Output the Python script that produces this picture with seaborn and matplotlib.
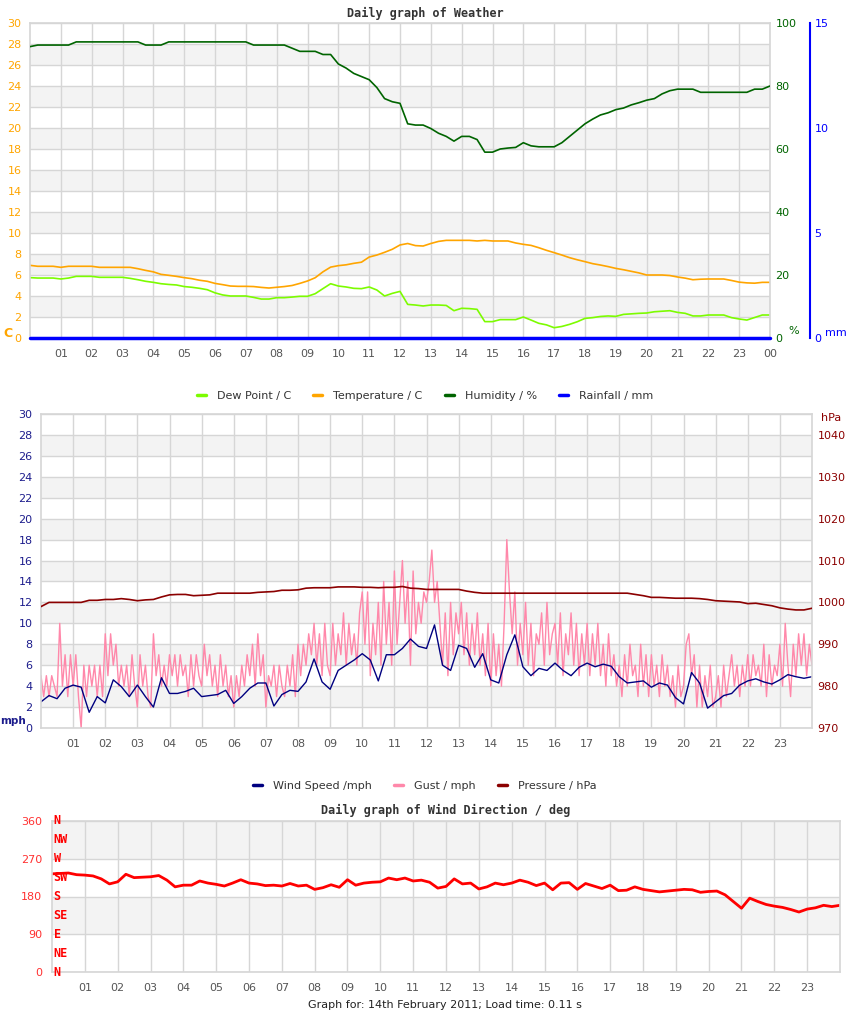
import numpy as np
import matplotlib
matplotlib.use("Agg")
import matplotlib.pyplot as plt
from matplotlib.lines import Line2D
import seaborn as sns

sns.set_style("white")
plt.rcParams["font.family"] = ["DejaVu Sans"]

# ---- data ----
# quarter-hour samples, hours 0 .. 24
quarter_hours = np.arange(97) * 0.25

humidity = [
    92.5, 93, 93, 93,   93, 93, 94, 94,   94, 94, 94, 94,   94, 94, 94, 93,
    93, 93, 94, 94,     94, 94, 94, 94,   94, 94, 94, 94,   94, 93, 93, 93,
    93, 93, 92, 91,     91, 91, 90, 90,   87, 85.7, 84, 83, 82, 79.5, 76, 75,
    74.5, 68, 67.6, 67.6, 66.5, 65, 64, 62.5, 64, 64, 63, 59, 59, 60, 60.3, 60.5,
    62, 61, 60.7, 60.7, 60.7, 62, 64, 66, 68, 69.5, 70.8, 71.5, 72.5, 73, 74, 74.7,
    75.5, 76, 77.5, 78.5, 79, 79, 79, 78, 78, 78, 78, 78, 78, 78, 79, 79,
    80,
]
temperature = [
    6.92, 6.83, 6.83, 6.83, 6.73, 6.83, 6.83, 6.83, 6.83, 6.73, 6.73, 6.73,
    6.73, 6.73, 6.6, 6.44, 6.3, 6.06, 5.97, 5.87, 5.75, 5.65, 5.5, 5.4,
    5.2, 5.08, 4.95, 4.92, 4.92, 4.9, 4.82, 4.76, 4.83, 4.9, 5.0, 5.2,
    5.43, 5.74, 6.3, 6.75, 6.89, 6.97, 7.11, 7.22, 7.71, 7.9, 8.16, 8.45,
    8.86, 9.0, 8.8, 8.76, 9.0, 9.2, 9.3, 9.3, 9.3, 9.3, 9.24, 9.3,
    9.24, 9.24, 9.24, 9.05, 8.92, 8.82, 8.6, 8.35, 8.13, 7.9, 7.65, 7.45,
    7.27, 7.08, 6.95, 6.8, 6.63, 6.5, 6.35, 6.2, 6.0, 6.0, 6.0, 5.95,
    5.81, 5.7, 5.55, 5.6, 5.62, 5.62, 5.62, 5.48, 5.32, 5.25, 5.22, 5.3,
    5.3,
]
dew_point = [
    5.75, 5.71, 5.71, 5.71, 5.62, 5.71, 5.87, 5.87, 5.87, 5.78, 5.78, 5.78,
    5.78, 5.68, 5.55, 5.4, 5.3, 5.17, 5.1, 5.05, 4.9, 4.83, 4.73, 4.6,
    4.3, 4.1, 4.0, 4.0, 4.0, 3.87, 3.71, 3.71, 3.84, 3.84, 3.9, 3.97,
    3.97, 4.22, 4.7, 5.17, 4.95, 4.86, 4.73, 4.7, 4.86, 4.57, 4.0, 4.25,
    4.44, 3.2, 3.14, 3.05, 3.14, 3.14, 3.1, 2.6, 2.83, 2.8, 2.73, 1.56,
    1.56, 1.75, 1.75, 1.75, 2.0, 1.71, 1.4, 1.25, 0.98, 1.1, 1.3, 1.55,
    1.87, 1.94, 2.05, 2.1, 2.06, 2.25, 2.3, 2.35, 2.38, 2.5, 2.55, 2.6,
    2.44, 2.35, 2.1, 2.1, 2.19, 2.19, 2.19, 1.94, 1.81, 1.71, 1.95, 2.19,
    2.19,
]
rain_hours = [0, 6, 12, 18, 24]
rainfall = [0.0, 0.0, 0.0, 0.0, 0.0]

wind_speed = [
    2.5, 3.1, 2.8, 3.8, 4.1, 3.9, 1.5, 3.0, 2.4, 4.6, 3.95, 3.0,
    4.1, 3.0, 2.0, 4.8, 3.3, 3.3, 3.5, 3.8, 3.0, 3.1, 3.2, 3.6,
    2.35, 3.0, 3.8, 4.3, 4.3, 2.1, 3.2, 3.6, 3.5, 4.4, 6.6, 4.4,
    3.7, 5.5, 6.0, 6.5, 7.1, 6.5, 4.5, 7.0, 7.0, 7.6, 8.5, 7.8,
    7.6, 9.85, 6.0, 5.5, 7.9, 7.6, 5.8, 7.1, 4.6, 4.3, 7.0, 8.9,
    5.85, 5.0, 5.7, 5.5, 6.2, 5.5, 5.0, 5.8, 6.2, 5.85, 6.1, 5.9,
    4.9, 4.3, 4.4, 4.5, 3.9, 4.3, 4.1, 2.9, 2.3, 5.3, 4.3, 1.9,
    2.5, 3.1, 3.3, 4.1, 4.5, 4.7, 4.4, 4.2, 4.6, 5.1, 4.9, 4.75,
    4.9,
]
pressure = [
    999.0, 1000.0, 1000.0, 1000.0, 1000.0, 1000.0, 1000.5, 1000.5,
    1000.7, 1000.7, 1000.9, 1000.7, 1000.4, 1000.6, 1000.7, 1001.3,
    1001.8, 1001.9, 1001.9, 1001.6, 1001.7, 1001.8, 1002.2, 1002.2,
    1002.2, 1002.2, 1002.2, 1002.4, 1002.5, 1002.6, 1002.9, 1002.9,
    1003.0, 1003.4, 1003.5, 1003.5, 1003.5, 1003.7, 1003.7, 1003.7,
    1003.6, 1003.6, 1003.5, 1003.6, 1003.6, 1003.8, 1003.4, 1003.3,
    1003.1, 1003.1, 1003.1, 1003.1, 1003.1, 1002.7, 1002.4, 1002.2,
    1002.2, 1002.2, 1002.2, 1002.2, 1002.2, 1002.2, 1002.2, 1002.2,
    1002.2, 1002.2, 1002.2, 1002.2, 1002.2, 1002.2, 1002.2, 1002.2,
    1002.2, 1002.2, 1001.9, 1001.6, 1001.2, 1001.2, 1001.1, 1001.0,
    1001.0, 1001.0, 1000.9, 1000.7, 1000.4, 1000.3, 1000.2, 1000.1,
    999.7, 999.8, 999.5, 999.2, 998.7, 998.4, 998.2, 998.2,
    998.6,
]
wind_dir = [
    234, 235, 236, 232, 231, 229, 222, 210, 215, 233, 225, 226,
    227, 230, 219, 203, 207, 207, 217, 212, 209, 205, 212, 220,
    212, 210, 206, 207, 205, 211, 205, 207, 197, 201, 208, 202,
    220, 207, 212, 214, 215, 224, 220, 224, 217, 219, 214, 200,
    204, 222, 210, 212, 198, 203, 212, 208, 212, 219, 214, 206,
    212, 196, 212, 213, 197, 211, 205, 199, 207, 194, 195, 203,
    197, 194, 191, 193, 195, 197, 196, 190, 192, 193, 184, 168,
    152, 176, 168, 161, 157, 154, 149, 143, 150, 153, 159, 156,
    159,
]

# gusts every five minutes, one row per hour
gust_hours = np.arange(289) / 12
gust = [
    5, 3, 5, 3, 5, 4, 3, 10, 4, 7, 3, 7,
    4, 7, 3, 0, 6, 3, 6, 4, 6, 3, 6, 3,
    9, 5, 9, 6, 8, 4, 6, 4, 6, 3, 7, 4,
    2, 7, 4, 6, 3, 2, 9, 5, 7, 4, 6, 4,
    7, 5, 7, 4, 7, 5, 6, 3, 7, 4, 7, 5,
    4, 8, 5, 7, 4, 6, 3, 7, 4, 6, 3, 5,
    2, 5, 3, 6, 4, 7, 5, 8, 4, 9, 5, 7,
    2, 5, 4, 6, 3, 6, 4, 3, 6, 4, 7, 3,
    8, 5, 8, 6, 9, 7, 10, 6, 9, 5, 10, 6,
    5, 10, 6, 9, 7, 11, 6, 10, 7, 9, 6, 11,
    13, 8, 13, 5, 10, 7, 12, 6, 14, 8, 12, 6,
    15, 8, 12, 16, 10, 14, 6, 15, 9, 12, 10, 13,
    12, 14, 17, 12, 14, 10, 6, 11, 5, 12, 7, 11,
    9, 12, 7, 11, 6, 10, 7, 11, 6, 9, 5, 10,
    4, 9, 5, 8, 4, 10, 18, 13, 9, 13, 6, 10,
    7, 12, 6, 10, 5, 9, 8, 11, 6, 12, 7, 9,
    10, 6, 11, 5, 9, 7, 11, 6, 10, 5, 9, 6,
    10, 5, 9, 6, 10, 5, 8, 4, 9, 5, 7, 4,
    6, 3, 7, 4, 8, 5, 6, 3, 8, 4, 7, 3,
    7, 4, 6, 3, 7, 4, 6, 3, 5, 2, 6, 3,
    4, 8, 9, 5, 7, 2, 6, 2, 5, 3, 6, 2,
    3, 5, 2, 6, 3, 5, 7, 4, 6, 3, 6, 4,
    7, 4, 7, 5, 6, 4, 8, 3, 7, 4, 6, 5,
    8, 4, 10, 6, 3, 8, 5, 9, 6, 9, 5, 8,
    6,
]

compass = ["N", "NE", "E", "SE", "S", "SW", "W", "NW", "N"]
compass_deg = [0, 45, 90, 135, 180, 225, 270, 315, 360]

# colours
c_dew, c_temp, c_hum, c_rain = "#7cfc00", "#ffa500", "#006400", "#0000ff"
c_speed, c_gust, c_press, c_dir = "#000080", "#ff88aa", "#8b0000", "#ff0000"
grid_c, band_c, tick_c = "#d6d6d6", "#f3f3f3", "#555555"

W, H = 850, 1017
fig = plt.figure(figsize=(W / 100, H / 100), dpi=100)


def box(l, t, r, b):
    return [l / W, 1 - b / H, (r - l) / W, (b - t) / H]


def fxy(x, y):
    return x / W, 1 - y / H


def base(ax, ymax, ystep, band_step, hours_lab):
    for lo in np.arange(band_step, ymax, 2 * band_step):
        ax.axhspan(lo, lo + band_step, color=band_c, lw=0, zorder=0)
    ax.set_xlim(0, 24)
    ax.set_ylim(0, ymax)
    ax.set_yticks(np.arange(0, ymax + 0.1, ystep))
    ax.set_xticks(range(1, len(hours_lab) + 1))
    ax.set_xticklabels(hours_lab)
    ax.grid(True, color=grid_c, lw=1)
    ax.set_axisbelow(True)
    ax.tick_params(length=0, labelsize=8)
    ax.tick_params(axis="x", colors=tick_c, pad=8)
    ax.set_xlabel("")
    ax.set_ylabel("")
    for s in ax.spines.values():
        s.set_color(grid_c)
        s.set_linewidth(1.2)


hour_labels = ["%02d" % h for h in range(1, 24)]

# ---------------- panel 1: weather ----------------
ax1 = fig.add_axes(box(30, 23, 770, 338))
sns.lineplot(x=quarter_hours, y=dew_point, ax=ax1, color=c_dew, lw=1.2)
sns.lineplot(x=quarter_hours, y=temperature, ax=ax1, color=c_temp, lw=1.2)
base(ax1, 30, 2, 2, hour_labels + ["00"])
ax1.tick_params(axis="y", colors=c_temp, pad=6)

ax_h = ax1.twinx()
sns.lineplot(x=quarter_hours, y=humidity, ax=ax_h, color=c_hum, lw=1.2)
ax_h.set_ylim(0, 100)
ax_h.set_yticks(range(0, 101, 20))
ax_h.set_ylabel("")
ax_h.tick_params(length=0, labelsize=8, colors=c_hum, pad=4)
for s in ax_h.spines.values():
    s.set_visible(False)

ax_r = ax1.twinx()
sns.lineplot(x=rain_hours, y=rainfall, ax=ax_r, color=c_rain, lw=2.5, clip_on=False)
ax_r.set_ylim(0, 15)
ax_r.set_xlim(0, 24)
ax_r.set_yticks([0, 5, 10, 15])
ax_r.set_ylabel("")
ax_r.tick_params(length=0, labelsize=8, colors=c_rain, pad=3)
for k, s in ax_r.spines.items():
    s.set_visible(k == "right")
ax_r.spines["right"].set_position(("outward", 29))
ax_r.spines["right"].set_color(c_rain)
ax_r.spines["right"].set_linewidth(1.5)

fig.text(*fxy(3, 333), "C", color=c_temp, fontsize=9, fontweight="bold", va="center")
fig.text(*fxy(788, 331), "%", color=c_hum, fontsize=8, va="center")
fig.text(*fxy(825, 333), "mm", color=c_rain, fontsize=8, va="center")
fig.text(*fxy(425, 13), "Daily graph of Weather", ha="center", va="center",
         family="DejaVu Sans Mono", fontweight="bold", fontsize=8.5, color="#333333")

leg1 = [Line2D([], [], color=c, lw=2.5) for c in (c_dew, c_temp, c_hum, c_rain)]
fig.legend(leg1, ["Dew Point / C", "Temperature / C", "Humidity / %", "Rainfall / mm"],
           loc="center", bbox_to_anchor=fxy(425, 396), ncol=4, frameon=False,
           fontsize=8, handlelength=0.8, handletextpad=1.0, columnspacing=2.0,
           labelcolor="#333333")

# ---------------- panel 2: wind & pressure ----------------
ax2 = fig.add_axes(box(41, 414, 812, 728))
sns.lineplot(x=gust_hours, y=gust, ax=ax2, color=c_gust, lw=1.0)
sns.lineplot(x=quarter_hours, y=wind_speed, ax=ax2, color=c_speed, lw=1.0)
base(ax2, 30, 2, 2, hour_labels)
ax2.tick_params(axis="y", colors="#1c1c8c", pad=6)

ax_p = ax2.twinx()
sns.lineplot(x=quarter_hours, y=pressure, ax=ax_p, color=c_press, lw=1.2)
ax_p.set_ylim(970, 1045)
ax_p.set_yticks(range(970, 1041, 10))
ax_p.set_ylabel("")
ax_p.tick_params(length=0, labelsize=8, colors=c_press, pad=4)
for s in ax_p.spines.values():
    s.set_visible(False)

fig.text(*fxy(821, 418), "hPa", color=c_press, fontsize=8, va="center")
fig.text(*fxy(0, 721), "mph", color="#1c1c8c", fontsize=7.5, fontweight="bold",
         va="center")

leg2 = [Line2D([], [], color=c, lw=2.5) for c in (c_speed, c_gust, c_press)]
fig.legend(leg2, ["Wind Speed /mph", "Gust / mph", "Pressure / hPa"],
           loc="center", bbox_to_anchor=fxy(425, 786), ncol=3, frameon=False,
           fontsize=8, handlelength=0.8, handletextpad=1.0, columnspacing=2.0,
           labelcolor="#333333")

# ---------------- panel 3: wind direction ----------------
ax3 = fig.add_axes(box(52, 821, 840, 972))
sns.lineplot(x=quarter_hours, y=wind_dir, ax=ax3, color=c_dir, lw=2.0)
base(ax3, 360, 90, 90, hour_labels)
ax3.tick_params(axis="y", colors="#ff3030", pad=7)
for lab, d in zip(compass, compass_deg):
    ax3.text(0.05, d, lab, color=c_dir, family="DejaVu Sans Mono",
             fontweight="bold", fontsize=8.5, va="center", ha="left", clip_on=False)

fig.text(*fxy(446, 810), "Daily graph of Wind Direction / deg", ha="center",
         va="center", family="DejaVu Sans Mono", fontweight="bold", fontsize=8.5,
         color="#333333")
fig.text(*fxy(445, 1005), "Graph for: 14th February 2011; Load time: 0.11 s",
         ha="center", va="center", fontsize=8, color="#222222")

fig.savefig("out.png", dpi=100)
